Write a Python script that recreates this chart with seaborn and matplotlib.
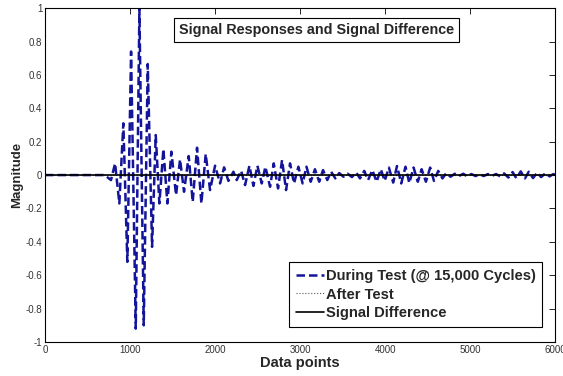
import matplotlib
matplotlib.use("Agg")
import matplotlib.pyplot as plt
import matplotlib.ticker as mticker
import seaborn as sns
import pandas as pd

# ---- data (extrema of the responses) ----
during_x = [0, 700, 776, 824, 874, 921, 968, 1012, 1067, 1110, 1161, 1208, 1259,
            1302, 1345, 1392, 1439, 1486, 1541, 1588, 1635, 1690, 1737, 1788,
            1839, 1890, 1941, 2000, 2059, 2106, 2157, 2216, 2255, 2306, 2353,
            2404, 2451, 2498, 2549, 2592, 2647, 2690, 2741, 2788, 2835, 2882,
            2929, 2980, 3030, 3075, 3125, 3175, 3225, 3270, 3320, 3365, 3415,
            3460, 3510, 3560, 3610, 3660, 3705, 3755, 3800, 3850, 3900, 3950,
            3995, 4045, 4095, 4140, 4190, 4240, 4285, 4335, 4385, 4430, 4480,
            4530, 4575, 4625, 4675, 4720, 4770, 4820, 4870, 4920, 4965, 5015,
            5065, 5110, 5160, 5210, 5255, 5305, 5355, 5400, 5450, 5500, 5545,
            5595, 5645, 5690, 5740, 5790, 5835, 5885, 5935, 5980, 6000]
during_y = [0, 0, -0.03, 0.07, -0.17, 0.31, -0.52, 0.74, -0.92, 1.00, -0.90, 0.665,
            -0.43, 0.24, -0.17, 0.156, -0.17, 0.14, -0.12, 0.094, -0.10, 0.114,
            -0.16, 0.164, -0.17, 0.126, -0.09, 0.056, -0.05, 0.046, -0.035, 0.02,
            -0.03, 0.026, -0.06, 0.056, -0.065, 0.056, -0.05, 0.05, -0.07, 0.07,
            -0.08, 0.09, -0.09, 0.07, -0.05, 0.05, -0.05, 0.05, -0.04, 0.035,
            -0.04, 0.03, -0.03, 0.02, -0.02, 0.012, -0.01, 0.008, -0.012, 0.015,
            -0.02, 0.025, -0.03, 0.03, -0.04, 0.035, -0.035, 0.045, -0.045, 0.054,
            -0.05, 0.05, -0.048, 0.045, -0.04, 0.035, -0.04, 0.045, -0.035, 0.025,
            -0.02, 0.012, -0.01, 0.008, -0.006, 0.008, -0.008, 0.006, -0.006,
            0.005, -0.006, 0.006, -0.005, 0.006, -0.008, 0.01, -0.015, 0.018,
            -0.02, 0.022, -0.02, 0.02, -0.018, 0.015, -0.012, 0.01, -0.008, 0.006, 0]
after_x = [0, 6000]
after_y = [0.0, 0.0]
diff_x = [0, 6000]
diff_y = [0.0, 0.0]

labels = ["During Test (@ 15,000 Cycles)", "After Test", "Signal Difference"]
x_ticks = [0, 1000, 2000, 3000, 4000, 5000, 6000]
y_ticks = [-1, -0.8, -0.6, -0.4, -0.2, 0, 0.2, 0.4, 0.6, 0.8, 1]

sns.set_theme(style="white")
plt.rcParams["font.family"] = ["Liberation Sans", "DejaVu Sans"]
plt.rcParams["axes.edgecolor"] = "black"
plt.rcParams["axes.linewidth"] = 0.8

fig = plt.figure(figsize=(5.63, 3.76), dpi=100)
ax = fig.add_axes([0.080, 0.0904, 0.906, 0.888])

df_during = pd.DataFrame({"x": during_x, "y": during_y})
df_after = pd.DataFrame({"x": after_x, "y": after_y})
df_diff = pd.DataFrame({"x": diff_x, "y": diff_y})

sns.lineplot(data=df_during, x="x", y="y", ax=ax, color="#14149a", lw=1.8,
             linestyle=(0, (3.4, 1.6)), label=labels[0], estimator=None, sort=False)
sns.lineplot(data=df_after, x="x", y="y", ax=ax, color="#555555", lw=0.8,
             linestyle=":", label=labels[1], estimator=None, sort=False)
sns.lineplot(data=df_diff, x="x", y="y", ax=ax, color="black", lw=1.2,
             linestyle="-", label=labels[2], estimator=None, sort=False)

ax.set_xlim(0, 6000)
ax.set_ylim(-1, 1)
ax.set_xticks(x_ticks)
ax.set_yticks(y_ticks)
ax.yaxis.set_major_formatter(mticker.FuncFormatter(lambda v, p: "%g" % round(v, 2)))
ax.tick_params(direction="in", length=4, width=0.6, top=True, right=True,
               labelsize=7, colors="black", labelcolor="#333333", pad=2)
for s in ax.spines.values():
    s.set_visible(True)
    s.set_color("black")

ax.set_xlabel("Data points", fontsize=10.5, fontweight="bold", labelpad=1)
ax.set_ylabel("Magnitude", fontsize=9.5, fontweight="bold", labelpad=2)

ax.text(0.532, 0.934, "Signal Responses and Signal Difference", transform=ax.transAxes,
        ha="center", va="center", fontsize=10.4, fontweight="bold",
        bbox=dict(boxstyle="square,pad=0.35", fc="white", ec="black", lw=0.8))

leg = ax.legend(loc="lower right", bbox_to_anchor=(0.975, 0.045), borderaxespad=0,
                frameon=True, fancybox=False, edgecolor="black", framealpha=1,
                prop={"weight": "bold", "size": 10.6}, handlelength=1.9,
                handletextpad=0.15, labelspacing=0.32, borderpad=0.45)
leg.get_frame().set_linewidth(0.8)

fig.savefig("out.png", dpi=100)
